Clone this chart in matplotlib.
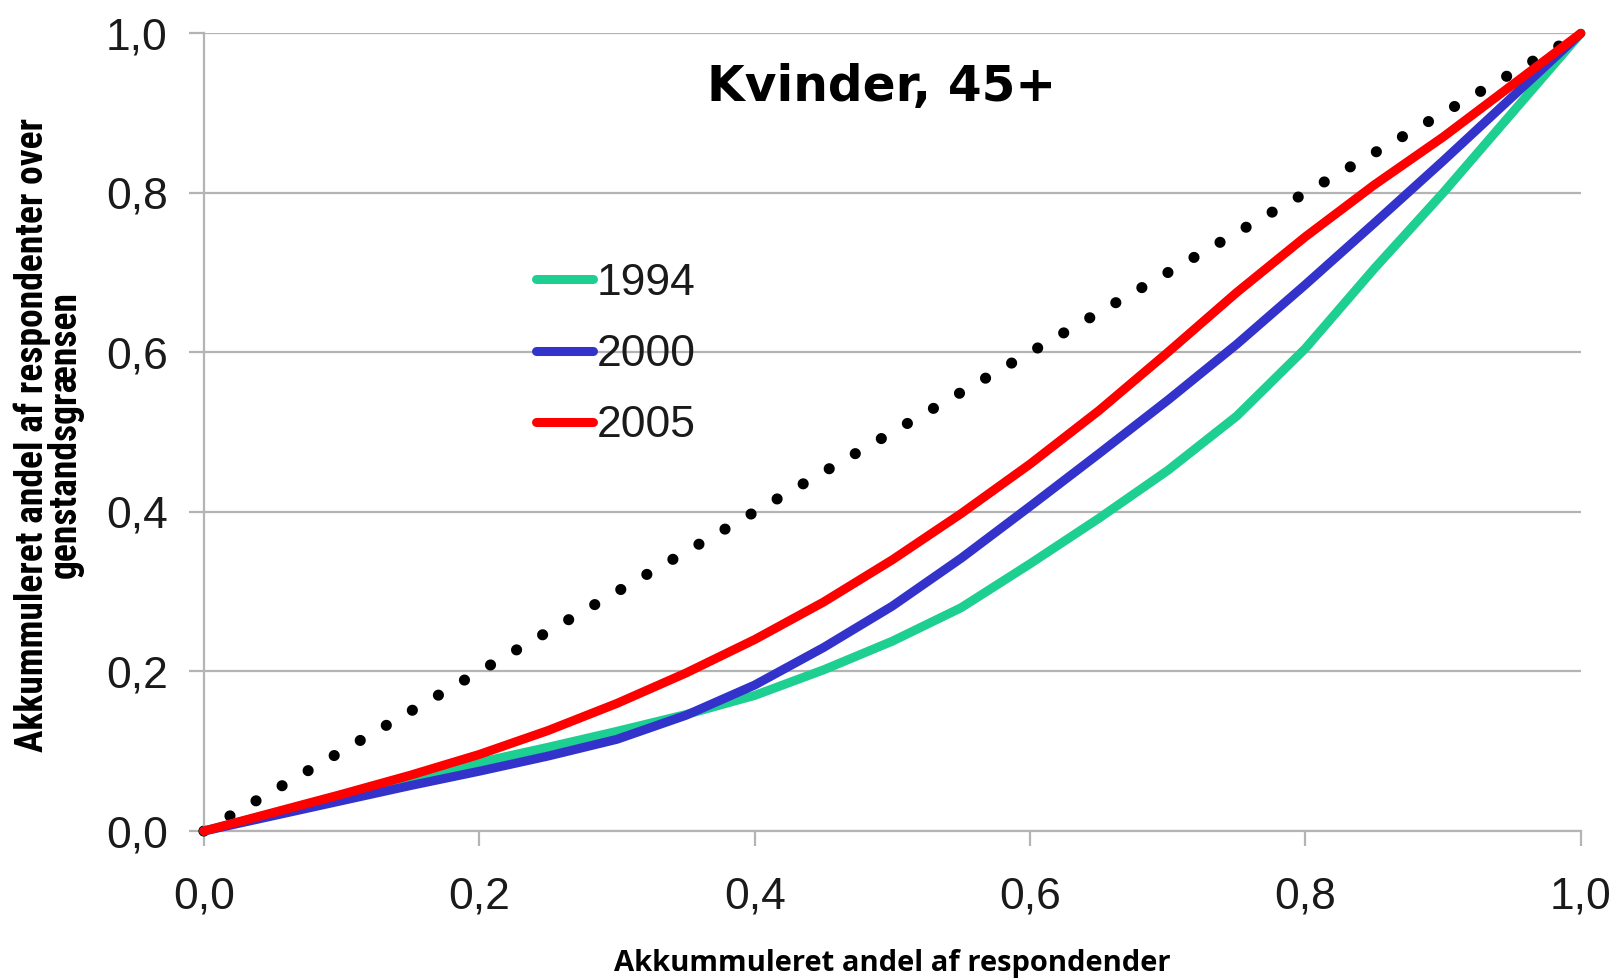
import numpy as np
import matplotlib.pyplot as plt
from matplotlib import font_manager
from matplotlib.ticker import FuncFormatter

# andel af respondenter (x) og akkummuleret andel over grænsen (y)
x = [0.0, 0.05, 0.1, 0.15, 0.2, 0.25, 0.3, 0.35, 0.4, 0.45, 0.5, 0.55,
     0.6, 0.65, 0.7, 0.75, 0.8, 0.85, 0.9, 0.95, 1.0]
y_1994 = [0.0, 0.022, 0.045, 0.066, 0.086, 0.105, 0.125, 0.146, 0.170, 0.202,
          0.238, 0.280, 0.335, 0.392, 0.452, 0.520, 0.605, 0.705, 0.800, 0.900, 1.0]
y_2000 = [0.0, 0.019, 0.038, 0.057, 0.075, 0.094, 0.115, 0.145, 0.183, 0.230,
          0.282, 0.342, 0.407, 0.473, 0.540, 0.610, 0.685, 0.762, 0.840, 0.920, 1.0]
y_2005 = [0.0, 0.023, 0.046, 0.070, 0.096, 0.126, 0.160, 0.198, 0.240, 0.287,
          0.340, 0.398, 0.460, 0.527, 0.600, 0.675, 0.745, 0.810, 0.870, 0.935, 1.0]
diag = [0.0, 1.0]

years = ['1994', '2000', '2005']
colors = ['#1ecf92', '#3333cc', '#ff0000']

names = {f.name for f in font_manager.fontManager.ttflist}
ylab_font = dict(fontfamily='DejaVu Sans', fontsize=21)
for cand, size in [('Liberation Sans Narrow', 28), ('Roboto Condensed', 27),
                   ('Open Sans Condensed', 27)]:
    if cand in names:
        ylab_font = dict(fontfamily=cand, fontsize=size)
        break

fig = plt.figure(figsize=(16.18, 9.80), dpi=100)
ax = fig.add_axes([0.126, 0.152, 0.851, 0.814])

ax.plot(diag, diag, color='black', linewidth=8, linestyle=(0, (0.01, 2.7)),
        dash_capstyle='round', clip_on=False, zorder=2)
for ys, c, lab in zip([y_1994, y_2000, y_2005], colors, years):
    ax.plot(x, ys, color=c, linewidth=6.5, label=lab, solid_capstyle='round',
            solid_joinstyle='round', clip_on=False, zorder=3)

ax.set_xlim(0, 1)
ax.set_ylim(0, 1)
ticks = [0.0, 0.2, 0.4, 0.6, 0.8, 1.0]
ax.set_xticks(ticks)
ax.set_yticks(ticks)
fmt = FuncFormatter(lambda v, p: f"{v:.1f}".replace('.', ','))
ax.xaxis.set_major_formatter(fmt)
ax.yaxis.set_major_formatter(fmt)

ax.grid(axis='y', color='#b4b4b4', linewidth=1.6)
ax.set_axisbelow(True)
for s in ['top', 'right']:
    ax.spines[s].set_visible(False)
for s in ['left', 'bottom']:
    ax.spines[s].set_color('#b4b4b4')
    ax.spines[s].set_linewidth(1.6)
ax.tick_params(axis='both', colors='#b4b4b4', length=11, width=1.6,
               labelcolor='#1a1a1a', labelsize=32)
ax.tick_params(axis='y', pad=15)
ax.tick_params(axis='x', pad=22)
for t in ax.get_xticklabels() + ax.get_yticklabels():
    t.set_fontfamily('Liberation Sans')

ax.text(0.492, 0.933, 'Kvinder, 45+', transform=ax.transAxes, fontsize=35,
        fontweight='bold', fontfamily='DejaVu Sans', ha='center', va='center')

ax.set_xlabel('Akkummuleret andel af respondender', fontsize=21,
              fontweight='bold', fontfamily='Open Sans', va='center')
ax.xaxis.set_label_coords(0.5, -0.166)
ax.set_ylabel('Akkummuleret andel af respondenter over\ngenstandsgrænsen',
              fontweight='bold', linespacing=0.85, va='center', **ylab_font)
ax.yaxis.set_label_coords(-0.113, 0.497)

leg = ax.legend(loc='upper left', bbox_to_anchor=(0.225, 0.740), frameon=False,
                fontsize=32, handlelength=1.28, handletextpad=0.08,
                labelspacing=0.68, borderpad=0)
for t in leg.get_texts():
    t.set_fontfamily('Liberation Sans')
    t.set_color('#1a1a1a')

fig.savefig('out.png', dpi=100)
